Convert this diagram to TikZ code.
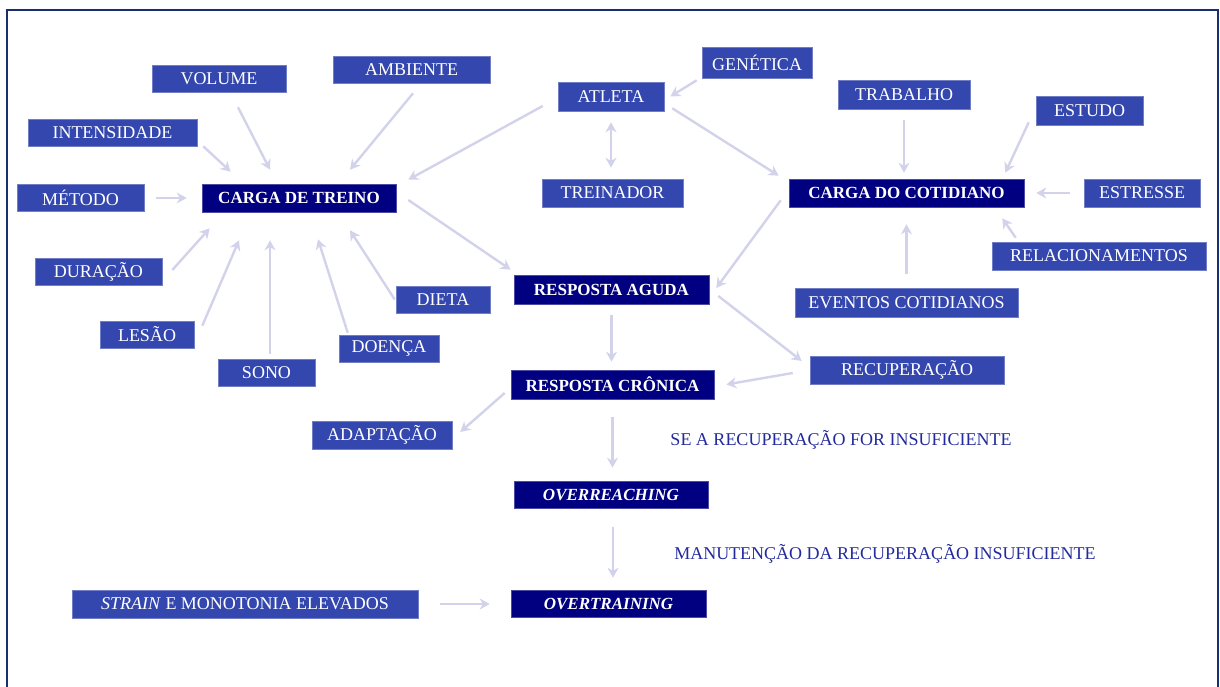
\documentclass[tikz,border=0pt]{standalone}
\usepackage{fontspec}
\setmainfont{Liberation Serif}
\usepackage{xcolor}
\usepackage{tikz}
\usetikzlibrary{arrows.meta,positioning,calc}
\definecolor{cLight}{HTML}{3447AE}
\definecolor{cDark}{HTML}{000080}
\definecolor{cArrow}{HTML}{D2D3EA}
\definecolor{cFrame}{HTML}{1B2F6E}
\definecolor{cNote}{HTML}{232A9C}
\tikzset{
  factor/.style={fill=cLight, draw=cLight!70!white, line width=0.6pt, text=white,
                 font=\fontsize{18}{20}\selectfont, minimum height=27, inner sep=0pt},
  stage/.style={fill=cDark, draw=cDark!70!white, line width=0.6pt, text=white,
                font=\fontsize{17}{20}\selectfont\bfseries, minimum height=28, inner sep=0pt},
  note/.style={text=cNote, font=\fontsize{18}{20}\selectfont, inner sep=0pt},
  flow/.style={-{Stealth[length=10pt,width=11pt]}, line width=2.4pt, draw=cArrow},
}
\begin{document}
\begin{tikzpicture}[x=1pt,y=1pt]
\useasboundingbox (0,0) rectangle (1220,686);
\draw[cFrame, line width=2.4pt] (7,-5) -- (7,676) -- (1218,676) -- (1218,-5);
% carga de treino
\node[stage, minimum width=194] (treino) at (299,488) {CARGA DE TREINO};
\node[factor, minimum width=134] (volume) at (219,607.5) {VOLUME};
\node[factor, minimum width=157] (ambiente) at (411.5,616.5) {AMBIENTE};
\node[factor, minimum width=169] (intens) at (112.5,553.5) {INTENSIDADE};
\node[factor, minimum width=127] (metodo) at (80.5,488) {MÉTODO};
\node[factor, minimum width=127] (duracao) at (98.5,414.5) {DURAÇÃO};
\node[factor, minimum width=94] (lesao) at (147,351.5) {LESÃO};
\node[factor, minimum width=97] (sono) at (266.5,313.5) {SONO};
\node[factor, minimum width=100] (doenca) at (389,337.5) {DOENÇA};
\node[factor, minimum width=94] (dieta) at (443,386.5) {DIETA};
% atleta
\node[factor, minimum width=106, minimum height=29] (atleta) at (611,589.5) {ATLETA};
\node[factor, minimum width=110, minimum height=31] (genetica) at (757,623.5) {GENÉTICA};
\node[factor, minimum width=141, minimum height=28] (treinador) at (612.5,493) {TREINADOR};
% carga do cotidiano
\node[stage, minimum width=235] (cotidiano) at (906.5,493) {CARGA DO COTIDIANO};
\node[factor, minimum width=132, minimum height=29] (trabalho) at (904,591.5) {TRABALHO};
\node[factor, minimum width=107, minimum height=29] (estudo) at (1089.5,575.5) {ESTUDO};
\node[factor, minimum width=116, minimum height=28] (estresse) at (1142,493) {ESTRESSE};
\node[factor, minimum width=214, minimum height=28] (relac) at (1099,430) {RELACIONAMENTOS};
\node[factor, minimum width=223, minimum height=29] (eventos) at (906.5,383.5) {EVENTOS COTIDIANOS};
% respostas
\node[stage, minimum width=195, minimum height=29] (aguda) at (611.5,396.5) {RESPOSTA AGUDA};
\node[factor, minimum width=194, minimum height=28] (recup) at (907,316) {RECUPERAÇÃO};
\node[stage, minimum width=203, minimum height=29] (cronica) at (612.5,301.5) {RESPOSTA CRÔNICA};
\node[factor, minimum width=140, minimum height=28] (adapt) at (382,251) {ADAPTAÇÃO};
\node[note] (insuf) at (841,246) {SE A RECUPERAÇÃO FOR INSUFICIENTE};
\node[stage, minimum width=194, minimum height=27] (overreach) at (611,191.5) {\textit{OVERREACHING}};
\node[note] (manut) at (885,132) {MANUTENÇÃO DA RECUPERAÇÃO INSUFICIENTE};
\node[stage, minimum width=195, minimum height=27] (overtrain) at (608.5,82.5) {\textit{OVERTRAINING}};
\node[factor, minimum width=346, minimum height=28] (strain) at (245,82) {\textit{STRAIN} E MONOTONIA ELEVADOS};
% setas
\draw[flow] ([shift={(6,0)}]intens.south east) -- ([shift={(29,12)}]treino.north west);
\draw[flow] ([shift={(19,-15)}]volume.south) -- ([shift={(-29,14)}]treino.north);
\draw[flow] ([shift={(1.5,-10)}]ambiente.south) -- ([shift={(51,14)}]treino.north);
\draw[flow] ([shift={(-15,-9.5)}]atleta.west) -- ([shift={(12,4)}]treino.north east);
\draw[flow, shorten <=12pt, shorten >=15pt] (metodo) -- (treino);
\draw[flow] ([shift={(10,1.5)}]duracao.east) -- ([shift={(8,-16)}]treino.south west);
\draw[flow] ([shift={(8,-5)}]lesao.north east) -- ([shift={(-60,-28)}]treino.south);
\draw[flow] ([shift={(3.5,5)}]sono.north) -- ([shift={(-29,-28)}]treino.south);
\draw[flow] ([shift={(9,2)}]doenca.north west) -- ([shift={(19,-27)}]treino.south);
\draw[flow] ([shift={(-1,0)}]dieta.west) -- ([shift={(51,-18)}]treino.south);
\draw[flow] ([shift={(12,-2)}]treino.east) -- ([shift={(-3,5)}]aguda.north west);
\draw[flow] ([shift={(-5,-2)}]genetica.south west) -- ([shift={(6,0)}]atleta.east);
\draw[flow, {Stealth[length=10pt,width=11pt]}-{Stealth[length=10pt,width=11pt]}, shorten <=11pt, shorten >=11pt] (atleta.south) -- (atleta.south |- treinador.north);
\draw[flow] ([shift={(8,3)}]atleta.south east) -- ([shift={(-10,3)}]cotidiano.north west);
\draw[flow, shorten <=11pt, shorten >=6pt] (trabalho.south) -- (trabalho.south |- cotidiano.north);
\draw[flow] ([shift={(-7,3)}]estudo.south west) -- ([shift={(-19,6)}]cotidiano.north east);
\draw[flow, shorten <=14pt, shorten >=12pt] (estresse) -- (cotidiano);
\draw[flow] ([shift={(24,4)}]relac.north west) -- ([shift={(-22,-11)}]cotidiano.south east);
\draw[flow, shorten <=14pt, shorten >=17pt] (eventos) -- (cotidiano);
\draw[flow] ([shift={(-8,7)}]cotidiano.south west) -- ([shift={(7,1.5)}]aguda.east);
\draw[flow, shorten <=11pt, shorten >=8pt] (aguda.south) -- (aguda.south |- cronica.north);
\draw[flow] ([shift={(9,-6.5)}]aguda.east) -- ([shift={(-8,9)}]recup.west);
\draw[flow] ([shift={(-17,-3)}]recup.west) -- ([shift={(12,0)}]cronica.east);
\draw[flow] ([shift={(-6,-8.5)}]cronica.west) -- ([shift={(8,3)}]adapt.east);
\draw[flow, shorten <=18pt, shorten >=13pt] (cronica.south) -- (cronica.south |- overreach.north);
\draw[flow, shorten <=19pt, shorten >=12pt] ([xshift=2pt]overreach.south) -- ([xshift=2pt]overreach.south |- overtrain.north);
\draw[flow, shorten <=22pt, shorten >=21pt] (strain.east) -- (strain.east -| overtrain.west);
\end{tikzpicture}
\end{document}
